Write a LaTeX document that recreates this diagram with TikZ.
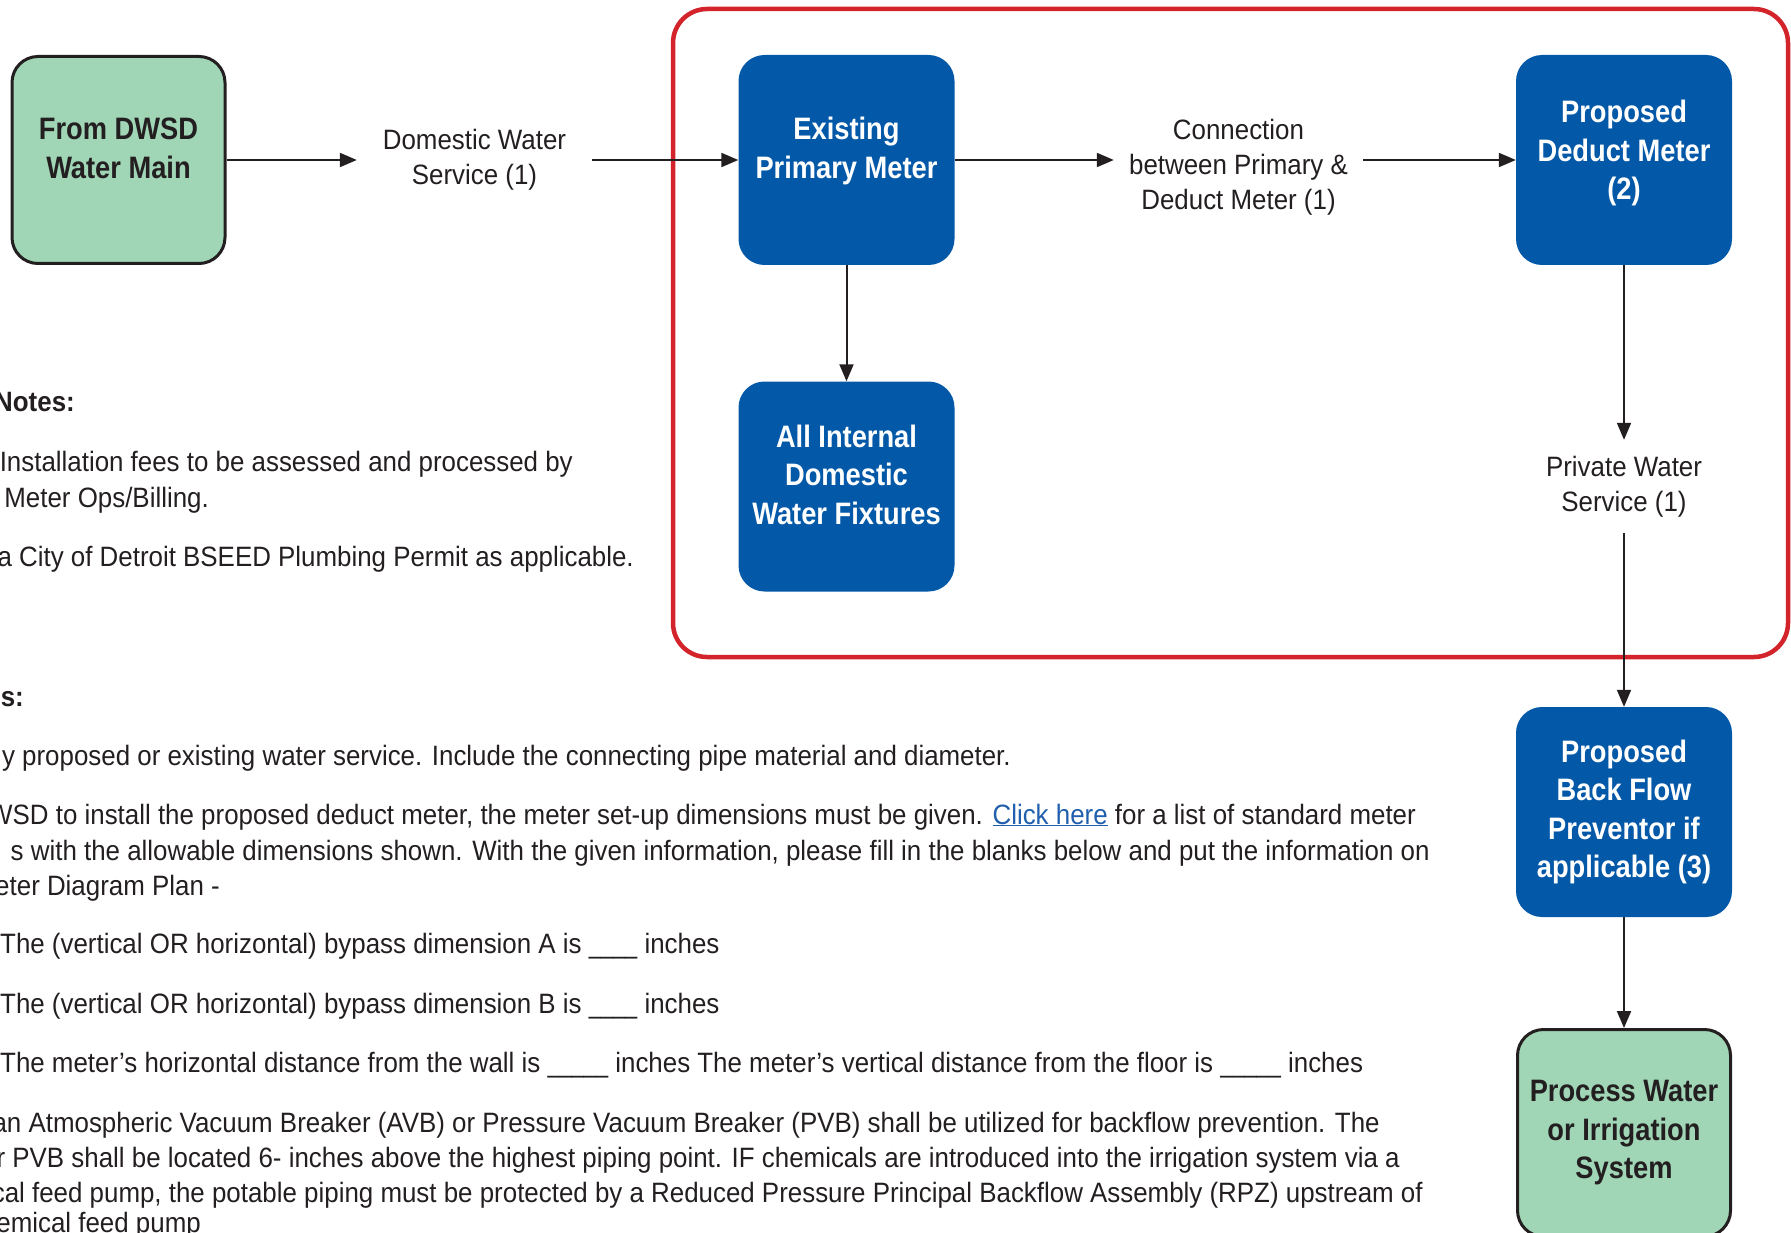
\documentclass[tikz,border=0pt]{standalone}
\usepackage{fontspec}
\setmainfont{Liberation Sans}[FakeStretch=0.925]
\newfontfamily\boxfont{Liberation Sans}[FakeStretch=0.88]
\usetikzlibrary{arrows.meta}

\definecolor{dwsdblue}{RGB}{3,88,168}
\definecolor{dwsdgreen}{RGB}{160,214,182}
\definecolor{dwsdred}{RGB}{211,35,43}
\definecolor{inkgrey}{RGB}{35,31,32}
\definecolor{linkblue}{RGB}{31,95,173}

\newcommand\blankline[1]{\scalebox{0.84}[1]{#1}}

\tikzset{
  meterbox/.style={rectangle,rounded corners=26pt,fill=dwsdblue,text=white,
    minimum width=216pt,minimum height=210pt,align=center,
    font=\boxfont\bfseries\fontsize{31}{38.5}\selectfont},
  endbox/.style={meterbox,fill=dwsdgreen,draw=inkgrey,line width=3pt,text=inkgrey,
    minimum width=213pt,minimum height=207pt},
  raised/.style={text depth=24pt},
  pipelabel/.style={align=center,text=inkgrey,inner sep=0pt,
    font=\fontsize{28}{35}\selectfont},
  flow/.style={draw=inkgrey,line width=2pt,-{Triangle[length=17pt,width=14pt]}},
  notetext/.style={anchor=base east,text=inkgrey,inner sep=0pt,
    font=\fontsize{28}{35}\selectfont},
}

\begin{document}
\begin{tikzpicture}[x=1pt,y=-1pt]
                \useasboundingbox (0,0) rectangle (1791,1233);

                \draw[dwsdred,line width=4.5pt,rounded corners=34pt] (673,9) rectangle (1788,657);

                \node[endbox,raised] (main) at (118.5,160) {From DWSD\\Water Main};
                \node[pipelabel,minimum width=235pt] (domestic) at (474.5,160) {Domestic Water\\Service (1)};
                \node[meterbox,raised] (primary) at (846.5,160) {Existing\\Primary Meter};
                \node[pipelabel,minimum width=249pt,text height=104pt] (connection) at (1238.5,160) {Connection\\between Primary \&\\Deduct Meter (1)};
                \node[meterbox,text depth=20pt] (deduct) at (1624,160) {Proposed\\Deduct Meter\\(2)};
                \node[meterbox,raised] (fixtures) at (846.5,486.5) {All Internal\\Domestic\\Water Fixtures};
                \node[pipelabel,minimum height=93pt] (private) at (1624,486.5) {Private Water\\Service (1)};
                \node[meterbox] (backflow) at (1624,812) {Proposed\\Back Flow\\Preventor if\\applicable (3)};
                \node[endbox] (process) at (1624,1133) {Process Water\\or Irrigation\\System};

                \draw[flow] (main) -- (domestic);
                \draw[flow] (domestic) -- (primary);
                \draw[flow] (primary) -- (connection);
                \draw[flow] (connection) -- (deduct);
                \draw[flow] (primary) -- (fixtures);
                \draw[flow] (deduct) -- (private);
                \draw[flow] (private) -- (backflow);
                \draw[flow] (backflow) -- (process);

                % notes
                \node[notetext] (billhead) at (75,411) {\textbf{Notes:}};
                \node[notetext] (billa) at (573,471) {Installation fees to be assessed and processed by};
                \node[notetext] (billb) at (209,507) {Meter Ops/Billing.};
                \node[notetext] (billc) at (634,566) {a City of Detroit BSEED Plumbing Permit as applicable.};
                \node[notetext] (planhead) at (24,706) {\textbf{es:}};
                \node[notetext] (plana) at (1011,765) {y proposed or existing water service. Include the connecting pipe material and diameter.};
                \node[notetext] (planb) at (1416,824) {WSD to install the proposed deduct meter, the meter set-up dimensions must be given. {\color{linkblue}\underline{Click here}} for a list of standard meter};
                \node[notetext] (planc) at (1430,860) {s with the allowable dimensions shown. With the given information, please fill in the blanks below and put the information on};
                \node[notetext] (pland) at (220,895) {eter Diagram Plan -};
                \node[notetext,anchor=base west] (dima) at (0,953) {The (vertical OR horizontal) bypass dimension A is \blankline{\_\_\_\_} inches};
                \node[notetext,anchor=base west] (dimb) at (0,1013) {The (vertical OR horizontal) bypass dimension B is \blankline{\_\_\_\_} inches};
                \node[notetext,anchor=base west] (dimc) at (0,1072) {The meter’s horizontal distance from the wall is \blankline{\_\_\_\_\_} inches The meter’s vertical distance from the floor is \blankline{\_\_\_\_\_} inches};
                \node[notetext] (avba) at (1380,1132) {an Atmospheric Vacuum Breaker (AVB) or Pressure Vacuum Breaker (PVB) shall be utilized for backflow prevention. The};
                \node[notetext] (avbb) at (1400,1167) {or PVB shall be located 6- inches above the highest piping point. IF chemicals are introduced into the irrigation system via a};
                \node[notetext] (avbc) at (1423,1202) {cal feed pump, the potable piping must be protected by a Reduced Pressure Principal Backflow Assembly (RPZ) upstream of};
                \node[notetext] (avbd) at (201,1232) {emical feed pump};
\end{tikzpicture}
\end{document}
